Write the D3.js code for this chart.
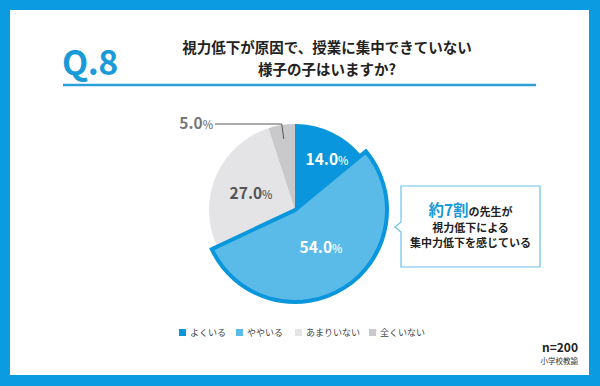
<!DOCTYPE html>
<html>
<head>
<meta charset="utf-8">
<script src="https://cdn.jsdelivr.net/npm/d3@7"></script>
<style>
  html, body { margin: 0; padding: 0; background: #fff; }
  svg text { font-family: "Noto Sans CJK JP", "Noto Sans", sans-serif; }
</style>
</head>
<body>
<div id="chart"></div>
<script>
var categories = ["よくいる", "ややいる", "あまりいない", "全くいない"];
var values = [14.0, 54.0, 27.0, 5.0];
var colors = ["#0a96dc", "#5bbbe8", "#e4e4e6", "#c9c9cc"];
var titleLines = ["視力低下が原因で、授業に集中できていない", "様子の子はいますか?"];
var calloutLines = ["視力低下による", "集中力低下を感じている"];

var W = 600, H = 386;
var svg = d3.select("#chart").append("svg")
    .attr("width", W)
    .attr("height", H);

// blue frame
svg.append("rect").attr("width", W).attr("height", H).attr("fill", "#0a9be0");
svg.append("rect")
    .attr("x", 10).attr("y", 10)
    .attr("width", 579).attr("height", 365)
    .attr("fill", "#ffffff");

// header
svg.append("text")
    .attr("x", 62).attr("y", 75)
    .attr("font-family", "'Open Sans', Roboto, sans-serif")
    .attr("font-size", 34)
    .attr("font-weight", 700)
    .attr("letter-spacing", -0.5)
    .attr("fill", "#1a9ad6")
    .text("Q.8");

svg.append("line")
    .attr("x1", 63).attr("x2", 536)
    .attr("y1", 85).attr("y2", 85)
    .attr("stroke", "#2a9fd8")
    .attr("stroke-width", 2.5);

svg.selectAll(".title")
    .data(titleLines)
  .enter().append("text")
    .attr("class", "title")
    .attr("x", 327)
    .attr("y", function(d, i) { return 53 + i * 22; })
    .attr("text-anchor", "middle")
    .attr("font-size", 14.5)
    .attr("font-weight", 700)
    .attr("fill", "#222")
    .text(function(d) { return d; });

// pie
var cx = 295, cy = 210, r = 86;
var color = d3.scaleOrdinal().domain(categories).range(colors);
var data = categories.map(function(c, i) { return {label: c, value: values[i]}; });
var pie = d3.pie().sort(null).value(function(d) { return d.value; });
var arcs = pie(data);
var arc = d3.arc().innerRadius(0).outerRadius(r);
var bigArc = d3.arc().innerRadius(0).outerRadius(r + 6);
var hi = 1; // highlighted slice

var g = svg.append("g").attr("transform", "translate(" + cx + "," + cy + ")");

g.selectAll(".slice")
    .data(arcs.filter(function(d, i) { return i !== hi; }))
  .enter().append("path")
    .attr("class", "slice")
    .attr("d", arc)
    .attr("fill", function(d) { return color(d.data.label); });

g.append("path")
    .attr("d", bigArc(arcs[hi]))
    .attr("fill", color(arcs[hi].data.label))
    .attr("stroke", "#0a96dc")
    .attr("stroke-width", 4)
    .attr("stroke-linejoin", "miter");

// slice labels
var labelPos = [
  {dx: 32, dy: -45, fill: "#fff"},
  {dx: 26, dy: 43, fill: "#fff"},
  {dx: -44, dy: -11, fill: "#555"}
];
arcs.slice(0, 3).forEach(function(d, i) {
  var p = labelPos[i];
  var t = g.append("text")
      .attr("x", p.dx).attr("y", p.dy)
      .attr("text-anchor", "middle")
      .attr("font-family", "Roboto, 'Noto Sans', sans-serif")
      .attr("font-weight", 700)
      .attr("fill", p.fill);
  t.append("tspan").attr("font-size", 15.5).text(d.data.value.toFixed(1));
  t.append("tspan").attr("font-size", 11).attr("font-weight", 500).text("%");
});

// small slice with leader
var small = arcs[3];
var sa = (small.startAngle + small.endAngle) / 2;
var lx = Math.sin(sa) * (r - 14), ly = -Math.cos(sa) * (r - 14);
g.append("path")
    .attr("d", "M" + lx + "," + ly + " L" + (lx - 2) + "," + (-86) + " L" + (-80) + "," + (-86))
    .attr("fill", "none")
    .attr("stroke", "#555")
    .attr("stroke-width", 1);
var t5 = g.append("text")
    .attr("x", -82).attr("y", -81)
    .attr("text-anchor", "end")
    .attr("font-family", "Roboto, 'Noto Sans', sans-serif")
    .attr("font-weight", 700)
    .attr("fill", "#777");
t5.append("tspan").attr("font-size", 15.5).text(small.data.value.toFixed(1));
t5.append("tspan").attr("font-size", 11).attr("font-weight", 500).text("%");

// callout
var bx = 401, by = 186, bw = 139, bh = 81, py = 227;
svg.append("path")
    .attr("d", "M" + bx + "," + by + " H" + (bx + bw) + " V" + (by + bh) + " H" + bx +
               " V" + (py + 5) + " L" + (bx - 6) + "," + py + " L" + bx + "," + (py - 5) + " Z")
    .attr("fill", "#fff")
    .attr("stroke", "#6cc2ea")
    .attr("stroke-width", 1.2);

var line1 = svg.append("text")
    .attr("x", bx + bw / 2).attr("y", 216)
    .attr("text-anchor", "middle")
    .attr("font-weight", 700);
line1.append("tspan").attr("font-size", 15.5).attr("fill", "#1a9ad6").text("約7割");
line1.append("tspan").attr("font-size", 11).attr("fill", "#222").text("の先生が");

svg.selectAll(".callout")
    .data(calloutLines)
  .enter().append("text")
    .attr("class", "callout")
    .attr("x", bx + bw / 2)
    .attr("y", function(d, i) { return 232 + i * 15; })
    .attr("text-anchor", "middle")
    .attr("font-size", 11)
    .attr("font-weight", 700)
    .attr("fill", "#222")
    .text(function(d) { return d; });

// legend
var legendX = [179, 236, 295, 369];
var lg = svg.selectAll(".legend")
    .data(categories)
  .enter().append("g")
    .attr("class", "legend")
    .attr("transform", function(d, i) { return "translate(" + legendX[i] + ",329)"; });
lg.append("rect")
    .attr("width", 7).attr("height", 7)
    .attr("fill", function(d) { return color(d); });
lg.append("text")
    .attr("x", 11).attr("y", 7)
    .attr("font-size", 9)
    .attr("fill", "#444")
    .text(function(d) { return d; });

// n / source
svg.append("text")
    .attr("x", 578).attr("y", 352)
    .attr("text-anchor", "end")
    .attr("font-family", "Roboto, 'Noto Sans', sans-serif")
    .attr("font-size", 12)
    .attr("font-weight", 700)
    .attr("fill", "#222")
    .text("n=200");
svg.append("text")
    .attr("x", 578).attr("y", 364)
    .attr("text-anchor", "end")
    .attr("font-size", 7.5)
    .attr("fill", "#333")
    .text("小学校教諭");
</script>
</body>
</html>
